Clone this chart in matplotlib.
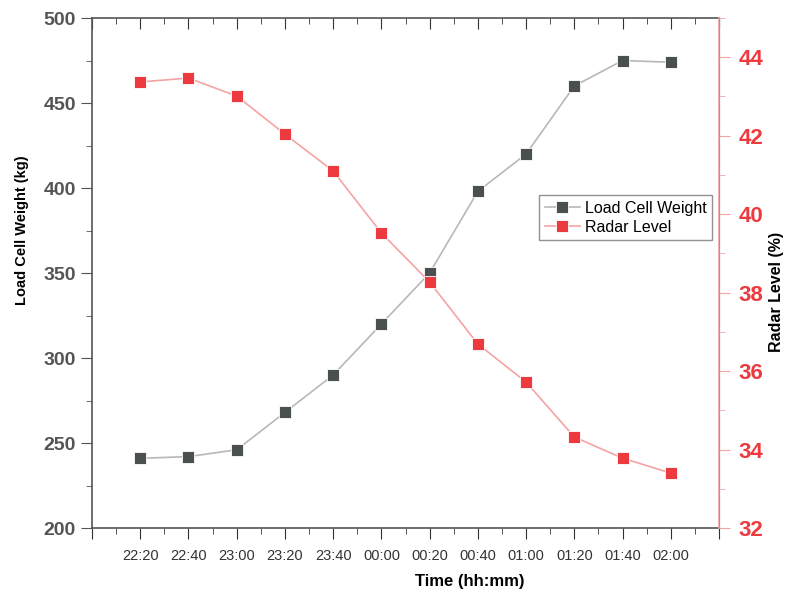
import numpy as np
import matplotlib.pyplot as plt
from matplotlib.ticker import MultipleLocator

plt.rcParams["font.family"] = ["Liberation Sans", "DejaVu Sans"]

# -------------------------
# Daten
# -------------------------

times = ["22:20", "22:40", "23:00", "23:20", "23:40", "00:00",
         "00:20", "00:40", "01:00", "01:20", "01:40", "02:00"]
load_cell_weight = [241, 242, 246, 268, 290, 320, 350, 398, 420, 460, 475, 474]
radar_level = [43.37, 43.47, 43.01, 42.04, 41.10, 39.52,
               38.27, 36.69, 35.72, 34.32, 33.78, 33.40]

GREY_MARK = "#4a5050"
GREY_LINE = "#b8b8b8"
RED_MARK = "#ec3a3f"
RED_LINE = "#f5a3a3"

x = np.arange(1, len(times) + 1)

fig = plt.figure(figsize=(7.98, 5.93), dpi=100, facecolor="white")
ax = fig.add_axes([0.1153, 0.1096, 0.7857, 0.86])
ax2 = ax.twinx()

l1, = ax.plot(x, load_cell_weight, color=GREY_LINE, lw=1.2, marker="s",
              ms=8, mfc=GREY_MARK, mec="white", mew=0.6, label="Load Cell Weight")
l2, = ax2.plot(x, radar_level, color=RED_LINE, lw=1.2, marker="s",
               ms=8, mfc=RED_MARK, mec="white", mew=0.6, label="Radar Level")

# Achsen
ax.set_xlim(0, len(times) + 1)
ax.set_ylim(200, 500)
ax2.set_ylim(32, 45)

ax.set_xticks(np.arange(0, len(times) + 2))
ax.set_xticklabels([""] + times + [""], fontsize=10.5, color="#333333")
ax.xaxis.set_minor_locator(MultipleLocator(0.5))
ax.tick_params(axis="x", which="major", direction="out", length=8, pad=7,
               colors="#333333", labelcolor="#333333")
ax.tick_params(axis="x", which="minor", direction="out", length=4, colors="#333333")

# obere Achse: Ticks nach innen
top = ax.secondary_xaxis("top")
top.set_xticks(np.arange(0, len(times) + 2))
top.set_xticklabels([])
top.xaxis.set_minor_locator(MultipleLocator(0.5))
top.tick_params(axis="x", which="major", direction="in", length=8, colors="#333333")
top.tick_params(axis="x", which="minor", direction="in", length=4, colors="#333333")
top.spines["top"].set_color("#555555")
top.spines["top"].set_linewidth(1.2)

ax.yaxis.set_major_locator(MultipleLocator(50))
ax.yaxis.set_minor_locator(MultipleLocator(25))
ax.tick_params(axis="y", which="major", direction="out", length=8,
               labelsize=14, colors="#555555", labelcolor="#555555")
ax.tick_params(axis="y", which="minor", direction="out", length=4, colors="#555555")
for t in ax.get_yticklabels():
    t.set_fontweight("bold")

ax2.yaxis.set_major_locator(MultipleLocator(2))
ax2.yaxis.set_minor_locator(MultipleLocator(1))
ax2.tick_params(axis="y", which="major", direction="out", length=8, pad=6,
                labelsize=16, colors=RED_LINE, labelcolor=RED_MARK)
ax2.tick_params(axis="y", which="minor", direction="out", length=4, colors=RED_LINE)
for t in ax2.get_yticklabels():
    t.set_fontweight("bold")

for s in ["left", "bottom"]:
    ax.spines[s].set_color("#555555")
    ax.spines[s].set_linewidth(1.2)
ax.spines["top"].set_visible(False)
ax2.spines["right"].set_color(RED_LINE)
ax2.spines["right"].set_linewidth(1.2)
ax2.spines["left"].set_visible(False)
ax2.spines["top"].set_visible(False)
ax2.spines["bottom"].set_visible(False)

ax.set_xlabel("Time (hh:mm)", fontsize=12, fontweight="bold")
ax.xaxis.set_label_coords(0.603, -0.091)
ax.set_ylabel("Load Cell Weight (kg)", fontsize=10.5, fontweight="bold")
ax.yaxis.set_label_coords(-0.1, 0.584)
ax2.set_ylabel("Radar Level (%)", fontsize=11.5, fontweight="bold")
ax2.yaxis.set_label_coords(1.08, 0.463)

leg = ax.legend(handles=[l1, l2], loc="upper right", bbox_to_anchor=(0.989, 0.653),
                borderaxespad=0, fontsize=11.5, frameon=True, fancybox=False,
                borderpad=0.35, handlelength=2.2, handletextpad=0.3, labelspacing=0.25)
leg.get_frame().set_edgecolor("#777777")
leg.get_frame().set_linewidth(1.0)

plt.savefig("out.png", dpi=100)
